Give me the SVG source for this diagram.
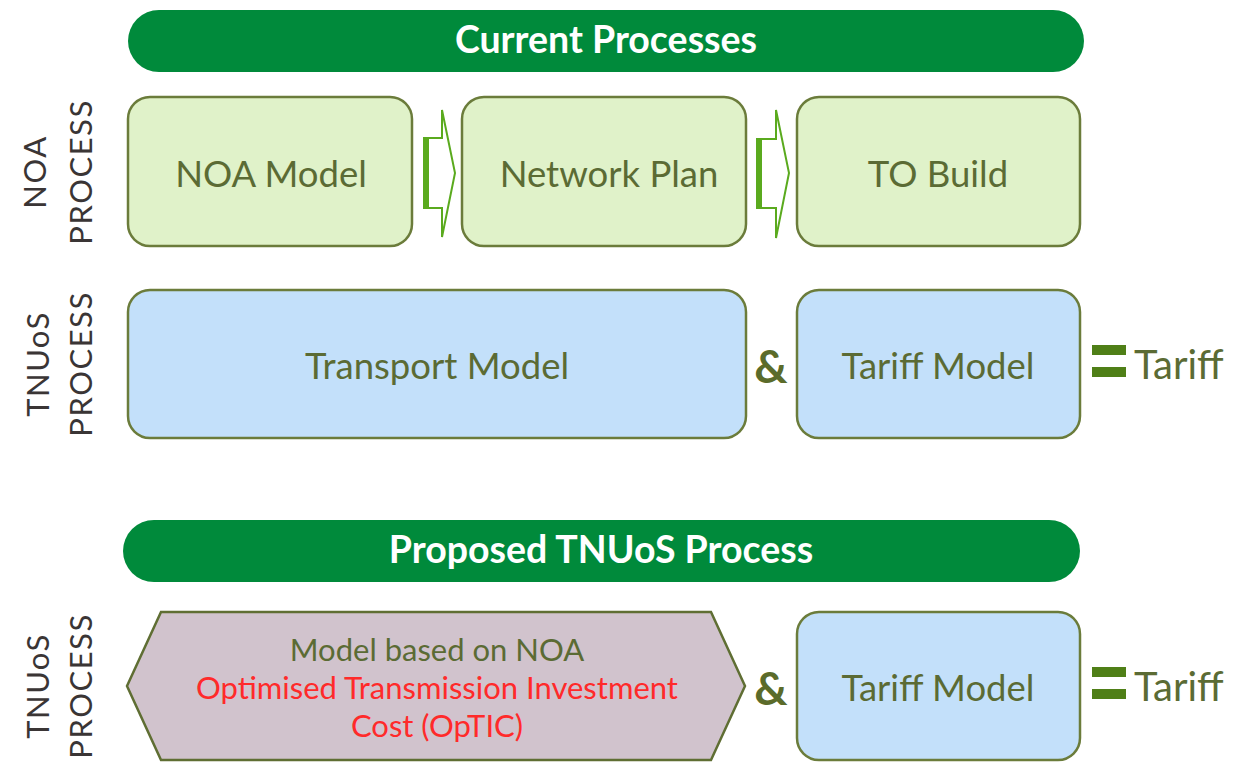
<svg xmlns="http://www.w3.org/2000/svg" width="1234" height="763" viewBox="0 0 1234 763">
  <style>
    .banner { fill: #008a3b; }
    .banner-text { font-family: Lato, "Open Sans", sans-serif; font-weight: bold; font-size: 37.5px; fill: #ffffff; text-anchor: middle; }
    .noa { fill: #e0f2c9; stroke: #6b7c3b; stroke-width: 2.5; }
    .tnuos { fill: #c3e0fa; stroke: #6b7c3b; stroke-width: 2.5; }
    .hex { fill: #d1c3cd; stroke: #5f6e33; stroke-width: 2.5; }
    .label { font-family: Lato, "Open Sans", sans-serif; font-size: 36.5px; fill: #5b6b34; text-anchor: middle; }
    .tariff { font-family: Lato, "Open Sans", sans-serif; font-size: 40px; fill: #5b6b34; }
    .small { font-family: Lato, "Open Sans", sans-serif; font-size: 31px; text-anchor: middle; }
    .side { font-family: Lato, "Open Sans", sans-serif; font-size: 31px; letter-spacing: 1.5px; fill: #3a3535; text-anchor: middle; }
    .amp { font-family: Lato, "Open Sans", sans-serif; font-weight: bold; font-size: 46px; fill: #5b6b2a; text-anchor: middle; }
    .eq { fill: #4f7f17; }
    .arrow { fill: #ffffff; stroke: #5aaa1e; stroke-width: 2; stroke-linejoin: miter; }
    .arrow-edge { stroke: #5aaa1e; stroke-width: 6; }
  </style>

  <!-- Current processes banner -->
  <g id="banner-current">
    <rect class="banner" x="128" y="10" width="956" height="62" rx="31"/>
    <text class="banner-text" x="606" y="53">Current Processes</text>
  </g>

  <!-- Row labels -->
  <g id="label-noa">
    <text class="side" transform="translate(46,172) rotate(-90)">NOA</text>
    <text class="side" transform="translate(92,172) rotate(-90)">PROCESS</text>
  </g>
  <g id="label-tnuos-current">
    <text class="side" transform="translate(49,364) rotate(-90)">TNUoS</text>
    <text class="side" transform="translate(92,364) rotate(-90)">PROCESS</text>
  </g>
  <g id="label-tnuos-proposed">
    <text class="side" transform="translate(49,686) rotate(-90)">TNUoS</text>
    <text class="side" transform="translate(92,686) rotate(-90)">PROCESS</text>
  </g>

  <!-- NOA process -->
  <g id="noa-model">
    <rect class="noa" x="128" y="97" width="284" height="149" rx="22"/>
    <text class="label" x="271" y="187">NOA Model</text>
  </g>
  <g id="network-plan">
    <rect class="noa" x="462" y="97" width="284" height="149" rx="22"/>
    <text class="label" x="609" y="187">Network Plan</text>
  </g>
  <g id="to-build">
    <rect class="noa" x="797" y="97" width="283" height="149" rx="22"/>
    <text class="label" x="938" y="187">TO Build</text>
  </g>

  <!-- Connectors between NOA steps -->
  <g id="connectors">
    <polygon class="arrow" points="424,138 442,138 442,110 455,173 442,237 442,208 424,208"/>
    <line class="arrow-edge" x1="426" y1="137" x2="426" y2="209"/>
    <polygon class="arrow" points="757,139 776,139 776,110 789,173 776,238 776,208 757,208"/>
    <line class="arrow-edge" x1="759" y1="138" x2="759" y2="209"/>
  </g>

  <!-- Current TNUoS process -->
  <g id="transport-model">
    <rect class="tnuos" x="128" y="290" width="618" height="148" rx="22"/>
    <text class="label" x="437" y="379">Transport Model</text>
  </g>
  <g id="amp-current">
    <text class="amp" x="771" y="383">&amp;</text>
  </g>
  <g id="tariff-model-current">
    <rect class="tnuos" x="797" y="290" width="283" height="148" rx="22"/>
    <text class="label" x="938" y="379">Tariff Model</text>
  </g>
  <g id="tariff-current">
    <rect class="eq" x="1092" y="345" width="34" height="10"/>
    <rect class="eq" x="1092" y="367" width="34" height="10"/>
    <text class="tariff" x="1134" y="379">Tariff</text>
  </g>

  <!-- Proposed process banner -->
  <g id="banner-proposed">
    <rect class="banner" x="123" y="520" width="957" height="62" rx="31"/>
    <text class="banner-text" x="601" y="563">Proposed TNUoS Process</text>
  </g>

  <!-- Proposed TNUoS process -->
  <g id="optic-model">
    <polygon class="hex" points="127,686 161,612 711,612 745,686 711,760 161,760"/>
    <text class="small" x="437" y="661" fill="#5b6b34">Model based on NOA</text>
    <text class="small" x="437" y="699" fill="#ff2a2a">Optimised Transmission Investment</text>
    <text class="small" x="437" y="737" fill="#ff2a2a">Cost (OpTIC)</text>
  </g>
  <g id="amp-proposed">
    <text class="amp" x="771" y="705">&amp;</text>
  </g>
  <g id="tariff-model-proposed">
    <rect class="tnuos" x="797" y="612" width="283" height="148" rx="22"/>
    <text class="label" x="938" y="701">Tariff Model</text>
  </g>
  <g id="tariff-proposed">
    <rect class="eq" x="1092" y="667" width="34" height="10"/>
    <rect class="eq" x="1092" y="689" width="34" height="10"/>
    <text class="tariff" x="1134" y="701">Tariff</text>
  </g>
</svg>
